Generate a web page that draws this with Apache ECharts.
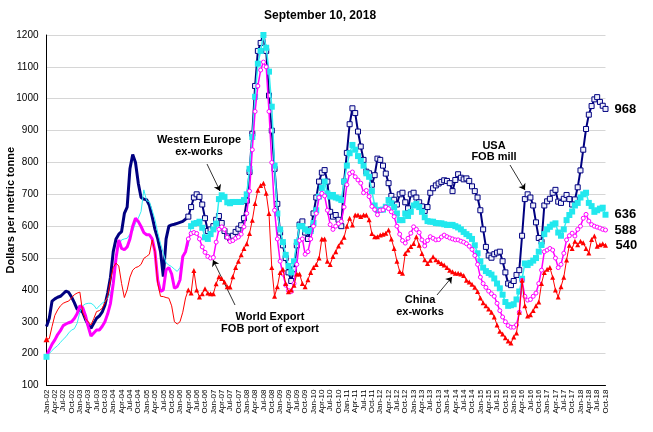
<!DOCTYPE html>
<html>
<head>
<meta charset="utf-8">
<script src="https://cdn.jsdelivr.net/npm/echarts@6/dist/echarts.min.js"></script>
<style>
  html, body { margin: 0; padding: 0; background: #fff; }
  #chart { width: 653px; height: 432px; }
</style>
</head>
<body>
<div id="chart"></div>
<script>
// monthly categories Jan-02 .. Oct-18, one label every 3 months
var monthNames = ['Jan', 'Feb', 'Mar', 'Apr', 'May', 'Jun', 'Jul', 'Aug', 'Sep', 'Oct', 'Nov', 'Dec'];
var firstYear = 2002;
var monthCount = 202;
var categories = [];
for (var i = 0; i < monthCount; i++) {
  var yr = firstYear + Math.floor(i / 12);
  categories.push(monthNames[i % 12] + '-' + String(yr).slice(2));
}

var yTicks = { min: 100, max: 1200, step: 100 };

// USA FOB mill
var usaFob = [
  285, 311, 365, 372, 377, 380, 388, 396, 392, 378, 360, 340,
  337, 330, 308, 290, 280, 295, 311, 318, 330, 352, 390, 440,
  520, 560, 575, 583, 640, 660, 780, 825, 800, 735, 690, 685,
  683, 665, 630, 590, 560, 520, 442, 560, 600, 604, 606, 609,
  612, 615, 622, 630, 660, 690, 700, 692, 668, 625, 585, 590,
  600, 620, 632, 610, 585, 568, 562, 570, 582, 592, 603, 625,
  680, 770, 890, 1040, 1150, 1175, 1205, 1150, 1010, 900, 780, 670,
  580, 540, 500, 455, 428, 465, 540, 605, 615, 580, 560, 590,
  640, 690, 740, 768, 776, 740, 645, 630, 635, 620, 600, 740,
  830, 920, 970, 955, 897, 850, 808, 771, 766, 730, 760, 812,
  808, 790, 765, 735, 695, 683, 668, 700, 705, 675, 656, 700,
  705, 690, 675, 662, 648, 660, 705, 719, 728, 734, 739, 744,
  742, 735, 710, 745, 763, 752, 747, 750, 742, 725, 710, 690,
  650, 590, 535, 508, 501, 512, 517, 520, 490, 455, 420, 415,
  428, 447, 462, 570, 685, 700, 690, 665, 612, 563, 551, 665,
  678, 686, 705, 714, 677, 673, 686, 698, 685, 668, 684, 722,
  775, 840, 905, 950, 977, 998, 1005, 990, 978, 968
];

// Western Europe ex-works
var westEurope = [
  190, 200, 210, 218, 225, 235, 245, 253, 265, 274, 278, 295,
  330, 350, 356, 358, 358, 352, 340, 350, 358, 365, 374, 390,
  415, 500, 540, 557, 560, 562, 575, 585, 610, 625, 646, 714,
  680, 677, 650, 620, 580, 545, 515, 485, 478, 473, 465, 458,
  470, 505, 520, 540, 600, 608, 610, 614, 595, 565, 560, 575,
  590, 608, 685, 697, 692, 675, 672, 676, 676, 676, 676, 682,
  700, 780, 880, 1006, 1110, 1150, 1200, 1160, 1085, 975, 790, 640,
  590, 550, 510, 475, 455, 490, 550, 600, 600, 590, 585, 585,
  610, 650, 693, 720, 740, 703, 693, 698, 690, 687, 682, 740,
  790, 829, 855, 840, 820, 805, 790, 766, 755, 710, 665, 651,
  651, 652, 661, 682, 672, 660, 640, 619, 619, 640, 632, 645,
  665, 670, 660, 645, 628, 616, 614, 614, 610, 609, 609, 606,
  604, 604, 604, 600, 596, 590, 582, 575, 569, 560, 540, 515,
  490, 470, 459, 453, 448, 436, 420, 405, 385, 362, 350, 352,
  355, 370, 395, 435, 483, 478, 485, 492, 500, 520, 541, 575,
  590, 598, 605, 609, 580, 570, 590, 619, 635, 646, 665, 673,
  690, 700, 705, 673, 663, 645, 650, 655, 658, 636
];

// World Export FOB port of export
var worldExport = [
  192, 212, 230, 243, 260, 272, 288, 293, 297, 300, 310, 325,
  350, 345, 320, 285, 255, 265, 274, 274, 285, 300, 325, 358,
  420, 500, 557, 530, 526, 535, 560, 600, 625, 615, 599, 580,
  573, 573, 560, 520, 430, 395, 400, 463, 470, 450, 405, 410,
  431, 505, 520, 560, 577, 580, 577, 560, 535, 518, 505, 500,
  502, 550, 590, 598, 590, 565, 552, 555, 562, 566, 575, 598,
  640, 710, 840, 960, 1040, 1090, 1115, 1100, 960, 800, 650, 560,
  490, 450, 415, 398, 395, 420, 480, 555, 560, 512, 520, 560,
  600, 640, 690, 703, 695, 650, 605, 590, 600, 608, 615, 660,
  730, 765, 770, 755, 745, 735, 705, 712, 693, 662, 652, 636,
  650, 651, 660, 655, 645, 630, 600, 575, 555, 547, 562, 578,
  598, 590, 580, 557, 538, 555, 567, 562, 557, 558, 566, 572,
  567, 563, 560, 557, 557, 553, 550, 545, 537, 527, 508, 480,
  440, 420, 408, 396, 388, 380, 358, 335, 315, 300, 288, 283,
  283, 290, 330, 430, 380, 368, 370, 380, 390, 420, 462, 520,
  525, 530, 525, 500, 470, 480, 515, 557, 570, 578, 569, 590,
  600, 625, 637, 616, 605, 600, 597, 594, 590, 588
];

// China ex-works
var chinaExWorks = [
  245, 247, 285, 320, 337, 350, 358, 362, 365, 375, 385, 390,
  393, 330, 310, 300, 290, 310, 332, 335, 342, 360, 380, 431,
  470, 484, 475, 420, 376, 400, 440, 462, 470, 473, 480, 499,
  505, 512, 557, 520, 420, 380, 379, 376, 374, 350, 300, 293,
  300, 330, 375, 400, 390, 461, 400, 378, 388, 404, 390, 388,
  388, 419, 441, 436, 425, 410, 409, 441, 470, 490, 510, 530,
  545, 577, 619, 671, 713, 728, 735, 703, 640, 470, 380, 410,
  455, 465, 420, 394, 400, 415, 450, 450, 420, 410, 432, 455,
  470, 480, 500, 560, 560, 490, 480, 505, 520, 538, 550, 565,
  600, 625, 604, 635, 635, 630, 635, 635, 620, 577, 567, 567,
  572, 575, 578, 588, 560, 530, 490, 458, 452, 514, 525, 536,
  546, 567, 540, 514, 495, 483, 493, 504, 495, 488, 483, 478,
  470, 462, 457, 452, 452, 450, 445, 430, 425, 418, 408, 395,
  375, 360, 350, 340, 330, 315, 290, 270, 262, 250, 240, 233,
  252, 265, 330, 430, 350, 318, 322, 335, 350, 362, 420, 455,
  465, 470, 440, 400, 378, 410, 440, 494, 540, 530, 553, 542,
  553, 548, 530, 516, 558, 569, 537, 542, 545, 540
];

var FONT = '"Liberation Sans", Arial, sans-serif';

// keep values inside [from, to], blank elsewhere
function part(values, from, to) {
  return values.map(function (v, i) {
    return (i >= from && i <= to) ? v : '-';
  });
}

// early stretch: plain line (optionally a marker on the first point)
function earlySeries(values, upto, color, width, firstSymbol) {
  var data = part(values, 0, upto);
  if (firstSymbol) {
    data[0] = { value: values[0], symbol: firstSymbol.symbol, symbolSize: firstSymbol.size };
  }
  return {
    type: 'line',
    data: data,
    symbol: 'none',
    showAllSymbol: true,
    itemStyle: { color: color },
    lineStyle: { color: color, width: width },
    z: 2
  };
}

// later stretch: line with markers and end label
function lateSeries(values, from, color, width, sym, z) {
  return {
    type: 'line',
    data: part(values, from, values.length - 1),
    symbol: sym.symbol,
    symbolSize: sym.size,
    showAllSymbol: true,
    itemStyle: { color: sym.fill, borderColor: sym.border || sym.fill, borderWidth: sym.border ? 1 : 0 },
    lineStyle: { color: color, width: width },
    endLabel: {
      show: true,
      formatter: function (p) { return p.value; },
      distance: 9,
      fontFamily: FONT,
      fontSize: 13,
      fontWeight: 'bold',
      color: '#000'
    },
    z: z
  };
}

function arrow(x1, y1, x2, y2) {
  return [{ x: x1, y: y1 }, { x: x2, y: y2 }];
}

var myChart = echarts.init(document.getElementById('chart'));

var option = {
  animation: false,
  backgroundColor: '#fff',
  grid: { left: 46.5, right: 47.5, top: 35, bottom: 46.5, containLabel: false, outerBoundsMode: 'none' },
  xAxis: {
    type: 'category',
    data: categories,
    boundaryGap: false,
    axisLine: { lineStyle: { color: '#000', width: 1 } },
    axisTick: { show: false },
    axisLabel: {
      interval: 2,
      hideOverlap: false,
      rotate: 90,
      fontFamily: FONT,
      fontSize: 8,
      lineHeight: 8,
      color: '#000',
      margin: 4
    },
    splitLine: { show: false }
  },
  yAxis: {
    type: 'value',
    min: yTicks.min,
    max: yTicks.max,
    interval: yTicks.step,
    name: 'Dollars per metric tonne',
    nameLocation: 'middle',
    nameGap: 30,
    nameMoveOverlap: false,
    nameTextStyle: { fontFamily: FONT, fontSize: 11, fontWeight: 'bold', color: '#000' },
    axisLine: { show: true, lineStyle: { color: '#000', width: 1 } },
    axisTick: { show: false },
    axisLabel: {
      fontFamily: FONT,
      fontSize: 10,
      color: '#000',
      margin: 8,
      formatter: function (v) { return String(v); }
    },
    splitLine: { lineStyle: { color: '#d6d6d6', width: 1 } }
  },
  graphic: [
    { type: 'text', left: 264, top: 10, style: { text: 'September 10, 2018', font: 'bold 12px ' + FONT, fill: '#000' } },
    { type: 'text', x: 199, y: 134, style: { text: 'Western Europe\nex-works', textAlign: 'center', font: 'bold 11px ' + FONT, fill: '#000', lineHeight: 12 } },
    { type: 'text', x: 270, y: 311, style: { text: 'World Export\nFOB port of export', textAlign: 'center', font: 'bold 11px ' + FONT, fill: '#000', lineHeight: 12 } },
    { type: 'text', x: 494, y: 140, style: { text: 'USA\nFOB mill', textAlign: 'center', font: 'bold 11px ' + FONT, fill: '#000', lineHeight: 11 } },
    { type: 'text', x: 420, y: 294, style: { text: 'China\nex-works', textAlign: 'center', font: 'bold 11px ' + FONT, fill: '#000', lineHeight: 12 } }
  ],
  series: [
    earlySeries(usaFob, 51, '#000080', 3, null),
    lateSeries(usaFob, 51, '#000080', 2, { symbol: 'rect', size: 5, fill: '#eef0fa', border: '#000080' }, 3),
    earlySeries(westEurope, 52, '#33eef2', 1, { symbol: 'rect', size: 6 }),
    lateSeries(westEurope, 52, '#33eef2', 1.5, { symbol: 'rect', size: 6, fill: '#22e8ee' }, 4),
    earlySeries(worldExport, 51, '#ff00ff', 3, null),
    lateSeries(worldExport, 51, '#ff00ff', 1.5, { symbol: 'circle', size: 4, fill: '#ffffff', border: '#ff00ff' }, 5),
    earlySeries(chinaExWorks, 51, '#ff0000', 1, { symbol: 'triangle', size: 6 }),
    {
      type: 'line',
      data: part(chinaExWorks, 51, chinaExWorks.length - 1),
      symbol: 'triangle',
      symbolSize: 5,
      showAllSymbol: true,
      itemStyle: { color: '#ff0000' },
      lineStyle: { color: '#ff0000', width: 1 },
      endLabel: {
        show: true,
        formatter: function (p) { return p.value; },
        distance: 10,
        fontFamily: FONT,
        fontSize: 13,
        fontWeight: 'bold',
        color: '#000'
      },
      // annotation arrows
      markLine: {
        silent: true,
        symbol: ['none', 'arrow'],
        symbolSize: 6,
        label: { show: false },
        lineStyle: { color: '#000', width: 0.8, type: 'solid' },
        data: [
          arrow(207, 164, 220, 191),
          arrow(235, 305, 213, 260),
          arrow(510, 165, 525, 190),
          arrow(437, 295, 452, 277)
        ]
      },
      z: 6
    }
  ]
};

myChart.setOption(option);
</script>
</body>
</html>
